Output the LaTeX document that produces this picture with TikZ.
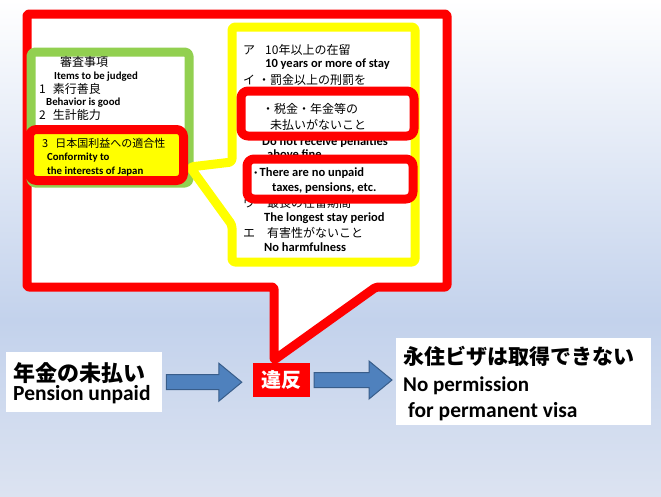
\documentclass[tikz,border=0pt]{standalone}
\usepackage{fontspec}
\setmainfont{Carlito}
\newfontfamily\jp{Noto Sans CJK JP}
\usetikzlibrary{calc}

\definecolor{callred}{HTML}{FF0000}
\definecolor{markyellow}{HTML}{FFFF00}
\definecolor{leafgreen}{HTML}{92D050}
\definecolor{arrowblue}{HTML}{4F81BD}
\definecolor{arrowedge}{HTML}{385D8A}
\definecolor{skyblue}{HTML}{C3D2EC}
\definecolor{paleblue}{HTML}{DCE3F1}

\tikzset{
	jp/.style = {anchor = base west, inner sep = 0pt, font = \jp\fontsize{12}{14}\selectfont},
	en/.style = {anchor = base west, inner sep = 0pt, font = \bfseries\fontsize{12.5}{14}\selectfont},
	ensmall/.style = {en, font = \bfseries\fontsize{10.8}{12}\selectfont},
	redframe/.style = {draw = callred, line width = 9pt, rounded corners = 7pt},
	plate/.style = {fill = white, inner sep = 0pt, anchor = north west},
	blockarrow/.style = {fill = arrowblue, draw = arrowedge, line width = 1pt, line join = miter}
}

% block arrow between two nodes: from, to, gap before the tip
\newcommand{\blockarrow}[3]{%
	\path [blockarrow] let \p1 = (#1.east), \p2 = (#2.west) in
		(\x1+4pt,\y1+7.5pt) -- (\x2-#3-23pt,\y1+7.5pt) -- (\x2-#3-23pt,\y1+19pt)
		-- (\x2-#3,\y1) -- (\x2-#3-23pt,\y1-19pt) -- (\x2-#3-23pt,\y1-7.5pt)
		-- (\x1+4pt,\y1-7.5pt) -- cycle;
}

\begin{document}
\begin{tikzpicture} [x = 1pt, y = -1pt, line join = round]
	\useasboundingbox (0,0) rectangle (661,496);
	\shade [top color = white, bottom color = skyblue] (0,0) rectangle (661,320);
	\shade [top color = skyblue, bottom color = paleblue] (0,320) rectangle (661,496);

	% big callout
	\coordinate (tip) at (274,360);
	\draw [draw = callred, line width = 9pt, fill = white, rounded corners = 2pt]
		(27,14) -- (447,14) -- (447,287) -- (376,287) -- (tip) -- (274,287) -- (27,287) -- cycle;

	% items to be judged
	\draw [draw = leafgreen, line width = 9pt, fill = white, rounded corners = 4pt] (31,52) rectangle (189,183);
	\node (head) [jp] at (60,66.5) {審査事項};
	\node (items) [ensmall] at (54,79.5) {Items to be judged};
	\node (one) [jp] at (39,93.5) {1\hspace{7pt}素行善良};
	\node (behav) [ensmall] at (46,105.5) {Behavior is good};
	\node (two) [jp] at (39,119.5) {2\hspace{7pt}生計能力};

	% requirements
	\coordinate (ytip) at (190,167);
	\draw [draw = markyellow, line width = 9pt, fill = white, rounded corners = 3pt]
		(232,27) -- (415,27) -- (415,262) -- (232,262) -- (232,225) -- (ytip) -- (232,162) -- cycle;
	\node (a) [jp] at (243,54.5) {ア\hspace{10pt}10年以上の在留};
	\node (aen) [en] at (265,67.5) {10 years or more of stay};
	\node (i) [jp] at (243,84.5) {イ\hspace{3pt}・罰金以上の刑罰を};
	\node (i2) [jp] at (264,100.5) {受けていないこと};
	\node (ien) [en] at (262,145.5) {Do not receive penalties};
	\node (ien2) [en] at (267,158.5) {above fine};
	\node (u) [jp] at (243,207.5) {ウ\hspace{12pt}最長の在留期間};
	\node (uen) [en] at (264,221.5) {The longest stay period};
	\node (e) [jp] at (243,237.5) {エ\hspace{12pt}有害性がないこと};
	\node (een) [en] at (264,251.5) {No harmfulness};

	% marked items
	\draw [redframe, fill = markyellow] (29.5,129.5) rectangle (183.5,180.5);
	\node (three) [jp, font = \jp\fontsize{11}{13}\selectfont] at (42,147) {3\hspace{7pt}日本国利益への適合性};
	\node (conf) [ensmall] at (47,160.5) {Conformity to};
	\node (japan) [ensmall] at (47,174) {the interests of Japan};

	\draw [redframe, fill = white] (241,91) rectangle (414,136);
	\node (tax) [jp] at (262,113.5) {・税金・年金等の};
	\node (tax2) [jp] at (270,129.5) {未払いがないこと};
	\draw [redframe, fill = white] (247,159) rectangle (413,199);
	\node (taxen) [en] at (254,176.5) {·\,There are no unpaid};
	\node (taxen2) [en] at (272,191.5) {taxes, pensions, etc.};

	% result row
	\node (unpaid) [plate, minimum width = 156pt, minimum height = 60pt] at (6,352) {};
	\node (unpaidj) [jp, font = \jp\bfseries\fontsize{22}{24}\selectfont] at (13,381.5) {年金の未払い};
	\node (unpaide) [en, font = \bfseries\fontsize{21.5}{24}\selectfont] at (13,400) {Pension unpaid};

	\node (viol) [fill = callred, text = white, inner sep = 0pt, minimum width = 57pt, minimum height = 34pt,
		font = \jp\bfseries\fontsize{20}{24}\selectfont] at (281.5,380) {違反};

	\node (visa) [plate, minimum width = 255pt, minimum height = 87pt] at (396,338) {};
	\node (visaj) [jp, font = \jp\bfseries\fontsize{21}{24}\selectfont] at (403,364.5) {永住ビザは取得できない};
	\node (visae) [en, font = \bfseries\fontsize{21}{24}\selectfont] at (403,391) {No permission};
	\node (visae2) [en, font = \bfseries\fontsize{21.5}{24}\selectfont] at (408,417) {for permanent visa};

	\blockarrow{unpaid}{viol}{11pt}
	\blockarrow{viol}{visa}{4pt}
\end{tikzpicture}
\end{document}
